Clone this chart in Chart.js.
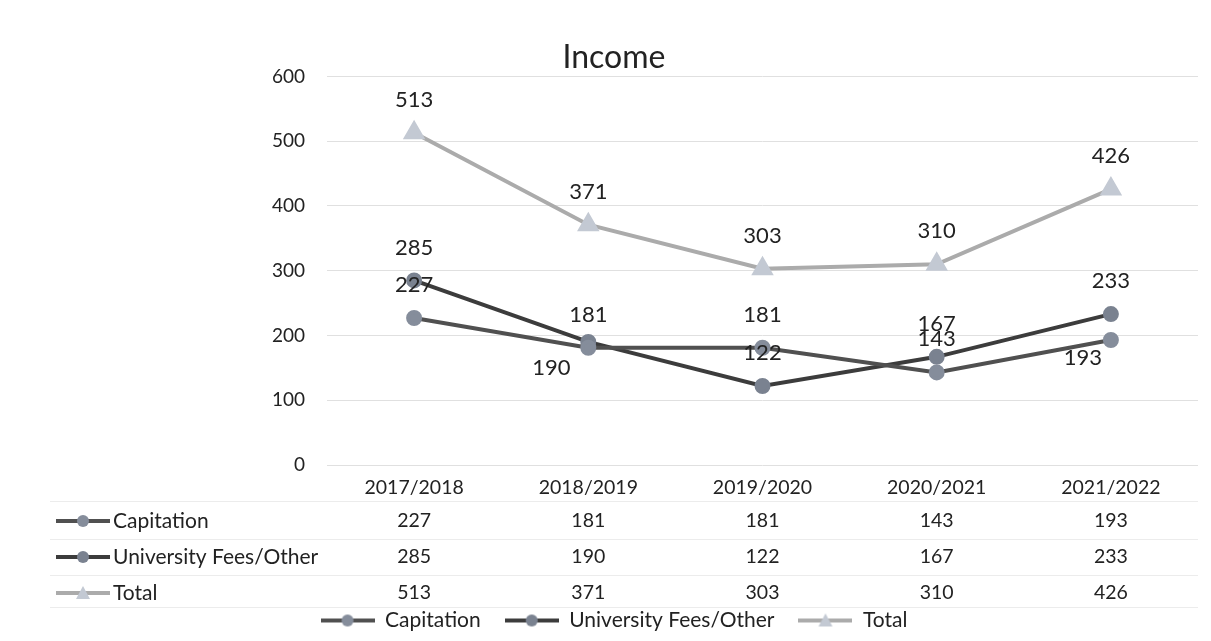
<!DOCTYPE html>
<html>
<head>
<meta charset="utf-8">
<script src="https://cdn.jsdelivr.net/npm/chart.js@4/dist/chart.umd.min.js"></script>
<style>
  html, body { margin: 0; padding: 0; background: #fff; }
  #wrap { width: 1211px; height: 641px; }
</style>
</head>
<body>
<div id="wrap"><canvas id="income-chart" width="1211" height="641"></canvas></div>
<script>
// Chart data
const categories = ['2017/2018', '2018/2019', '2019/2020', '2020/2021', '2021/2022'];
const capitation = [227, 181, 181, 143, 193];
const universityFees = [285, 190, 122, 167, 233];
const total = [513, 371, 303, 310, 426];
const yTicks = [0, 100, 200, 300, 400, 500, 600];

// label nudges (dx, dy) per series / point, default sits above the marker
const labelNudge = [
    [null, null, null, null, [-28, 18]],
    [null, [-37, 26], null, null, null],
    [null, null, null, null, null]
];

const FONT = 'Lato, "Open Sans", sans-serif';
const TEXT = '#222';

// line + marker key image, used by legend and data table
function makeKey(lineColor, markerColor, shape) {
    const c = document.createElement('canvas');
    c.width = 54;
    c.height = 16;
    const ctx = c.getContext('2d');
    ctx.strokeStyle = lineColor;
    ctx.lineWidth = 4;
    ctx.beginPath();
    ctx.moveTo(0, 8);
    ctx.lineTo(54, 8);
    ctx.stroke();
    ctx.fillStyle = markerColor;
    ctx.beginPath();
    if (shape === 'triangle') {
        ctx.moveTo(27, 1);
        ctx.lineTo(34, 14);
        ctx.lineTo(20, 14);
        ctx.closePath();
    } else {
        ctx.arc(27, 8, 6, 0, Math.PI * 2);
    }
    ctx.fill();
    return c;
}

const series = [
    { label: 'Capitation', data: capitation, line: '#505050', marker: '#858d9b', shape: 'circle' },
    { label: 'University Fees/Other', data: universityFees, line: '#3c3c3c', marker: '#7a8290', shape: 'circle' },
    { label: 'Total', data: total, line: '#ababab', marker: '#c3c9d3', shape: 'triangle' }
];
series.forEach(s => { s.key = makeKey(s.line, s.marker, s.shape); });

// value labels next to points
const dataLabels = {
    id: 'dataLabels',
    afterDatasetsDraw(chart) {
        const ctx = chart.ctx;
        ctx.save();
        ctx.font = '22px ' + FONT;
        ctx.fillStyle = TEXT;
        ctx.textAlign = 'center';
        ctx.textBaseline = 'middle';
        chart.data.datasets.forEach((ds, di) => {
            chart.getDatasetMeta(di).data.forEach((pt, i) => {
                const n = labelNudge[di][i] || [0, -33];
                ctx.fillText(String(ds.data[i]), pt.x + n[0], pt.y + n[1]);
            });
        });
        ctx.restore();
    }
};

// excel style data table under the x axis
const dataTable = {
    id: 'dataTable',
    afterDraw(chart) {
        const ctx = chart.ctx;
        const x = chart.scales.x;
        const base = chart.chartArea.bottom;
        const rowY = [base + 56, base + 92, base + 128];
        ctx.save();
        ctx.strokeStyle = '#ececec';
        ctx.lineWidth = 1;
        [base + 36, base + 74, base + 110, base + 142].forEach(y => {
            ctx.beginPath();
            ctx.moveTo(50, y + 0.5);
            ctx.lineTo(chart.chartArea.right, y + 0.5);
            ctx.stroke();
        });
        ctx.textBaseline = 'middle';
        series.forEach((s, r) => {
            ctx.drawImage(s.key, 56, rowY[r] - 8);
            ctx.font = '21px ' + FONT;
            ctx.fillStyle = TEXT;
            ctx.textAlign = 'left';
            ctx.fillText(s.label, 113, rowY[r]);
            ctx.font = '19.5px ' + FONT;
            ctx.textAlign = 'center';
            s.data.forEach((v, i) => {
                ctx.fillText(String(v), x.getPixelForTick(i), rowY[r]);
            });
        });
        ctx.restore();
    }
};

new Chart(document.getElementById('income-chart'), {
    type: 'line',
    data: {
        labels: categories,
        datasets: series.map(s => ({
            label: s.label,
            data: s.data,
            borderColor: s.line,
            borderWidth: 4,
            backgroundColor: s.marker,
            pointBackgroundColor: s.marker,
            pointBorderColor: s.marker,
            pointStyle: s.shape,
            pointRadius: s.shape === 'triangle' ? 9 : 6,
            tension: 0,
            fill: false
        }))
    },
    options: {
        responsive: false,
        animation: false,
        layout: { padding: { left: 28, right: 11, top: 0, bottom: 0 } },
        scales: {
            y: {
                min: 0,
                max: 600,
                afterBuildTicks: s => { s.ticks = yTicks.map(v => ({ value: v })); },
                afterFit: s => { s.width = 299; },
                ticks: { color: TEXT, font: { family: FONT, size: 19 }, padding: 22 },
                grid: { color: '#e0e0e0', drawTicks: false },
                border: { display: false }
            },
            x: {
                offset: true,
                afterFit: s => { s.height = 121; },
                ticks: { color: TEXT, font: { family: FONT, size: 19.5 }, padding: 3 },
                grid: { display: false, offset: true },
                border: { display: false }
            }
        },
        plugins: {
            title: {
                display: true,
                text: 'Income',
                color: TEXT,
                font: { family: FONT, size: 32, weight: 'normal' },
                padding: { top: 38, bottom: 0 }
            },
            legend: {
                position: 'bottom',
                labels: {
                    color: TEXT,
                    font: { family: FONT, size: 21 },
                    usePointStyle: true,
                    pointStyleWidth: 54,
                    padding: 24,
                    generateLabels: chart => series.map((s, i) => ({
                        text: s.label,
                        pointStyle: s.key,
                        datasetIndex: i,
                        fontColor: TEXT,
                        lineWidth: 0,
                        hidden: false
                    }))
                }
            },
            tooltip: { enabled: false }
        }
    },
    plugins: [dataLabels, dataTable]
});
</script>
</body>
</html>
